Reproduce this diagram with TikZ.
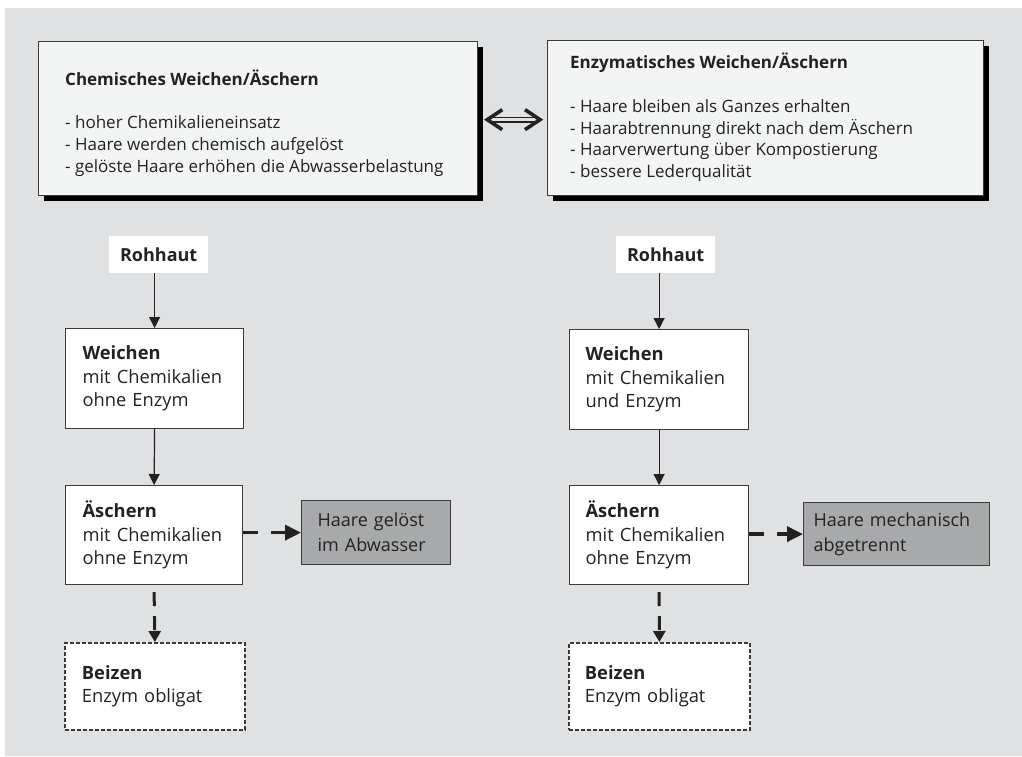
\documentclass[tikz,border=0pt]{standalone}
\usepackage{fontspec}
\setmainfont{Open Sans}
\usetikzlibrary{arrows.meta,shadows}
\definecolor{bgc}{HTML}{E0E1E3}
\definecolor{topfill}{HTML}{F3F4F4}
\definecolor{grayfill}{HTML}{A8A9AB}
\definecolor{edge}{HTML}{3A3A3A}
\definecolor{ink}{HTML}{222222}
\begin{document}
\begin{tikzpicture}[x=1pt,y=-1pt,
  topbox/.style={draw=edge, line width=1.3pt, fill=topfill, inner sep=0pt, anchor=north west,
    drop shadow={shadow xshift=5pt, shadow yshift=-5pt, fill=black, opacity=1}},
  toptext/.style={anchor=west, align=left, inner sep=0pt, text=ink, font=\fontsize{17}{21.8}\selectfont},
  flowbox/.style={draw=edge, line width=1.2pt, fill=white, anchor=north west, inner xsep=17pt, inner ysep=0pt,
    align=left, text=ink, font=\fontsize{18.3}{23.5}\selectfont},
  beizbox/.style={flowbox, dash pattern=on 4pt off 2pt, line width=1.8pt},
  graybox/.style={draw=edge, line width=1.2pt, fill=grayfill, anchor=north west, inner ysep=0pt,
    align=left, text=ink, font=\fontsize{18}{25}\selectfont},
  startbox/.style={fill=white, anchor=north west, inner sep=0pt, text=ink, font=\fontsize{18}{22}\selectfont\bfseries},
  solidarrow/.style={draw=ink, line width=1.2pt, -{Triangle[width=11pt,length=11pt]}},
  dasharrow/.style={draw=ink, line width=3.5pt, dash pattern=on 15pt off 13pt, -{Triangle[width=15pt,length=16pt]}},
  vdasharrow/.style={draw=ink, line width=3pt, dash pattern=on 14pt off 10pt, -{Triangle[width=12pt,length=11pt]}},
  chevron/.style={draw=ink, line width=3.6pt, line join=miter},
  dblshaft/.style={draw=ink, line width=1.6pt}
]
\useasboundingbox (0,0) rectangle (1022,756);
\fill[bgc] (5,8) rectangle (1022,756);

% top boxes
\node[topbox, minimum width=439pt, minimum height=154pt] (chemBox) at (38,41) {};
\node[topbox, minimum width=436pt, minimum height=155pt] (enzBox) at (547,40) {};
\node[toptext] (chemText) at (65,123) {\textbf{Chemisches Weichen/Äschern}\\[21.8pt]
- hoher Chemikalieneinsatz\\
- Haare werden chemisch aufgelöst\\
- gelöste Haare erhöhen die Abwasserbelastung};
\node[toptext] (enzText) at (570,117.5) {\textbf{Enzymatisches Weichen/Äschern}\\[21.8pt]
- Haare bleiben als Ganzes erhalten\\
- Haarabtrennung direkt nach dem Äschern\\
- Haarverwertung über Kompostierung\\
- bessere Lederqualität};

% double arrow between the top boxes
\path (chemBox.east) ++(9,1) coordinate (dL);
\path (enzBox.west |- chemBox.east) ++(-7,1) coordinate (dR);
\draw[dblshaft] ([shift={(2,-2.3)}]dL) -- ([shift={(-2,-2.3)}]dR);
\draw[dblshaft] ([shift={(2,2.3)}]dL) -- ([shift={(-2,2.3)}]dR);
\draw[chevron] ([shift={(15,-10)}]dL) -- (dL) -- ([shift={(15,10)}]dL);
\draw[chevron] ([shift={(-15,-10)}]dR) -- (dR) -- ([shift={(-15,10)}]dR);

% left flow
\node[startbox, minimum width=99pt, minimum height=37pt] (rohL) at (109,236) {Rohhaut};
\node[flowbox, minimum width=178pt, minimum height=100pt, text width=144pt] (weiL) at (65,328)
  {\textbf{Weichen}\\mit Chemikalien\\ohne Enzym};
\node[flowbox, minimum width=177pt, minimum height=99pt, text width=143pt] (aschL) at (65,485)
  {\textbf{Äschern}\\mit Chemikalien\\ohne Enzym};
\node[graybox, minimum width=149pt, minimum height=64pt, inner xsep=16pt, text width=117pt] (grayL) at (301,500)
  {Haare gelöst\\im Abwasser};
\node[beizbox, minimum width=180pt, minimum height=87pt, text width=146pt] (beizL) at (64,642)
  {\textbf{Beizen}\\Enzym obligat};

\draw[solidarrow] (weiL.north |- rohL.south) -- (weiL.north);
\draw[solidarrow] (weiL.south) -- (aschL.north);
\draw[dasharrow] (aschL.east |- grayL.west) -- (grayL.west);
\draw[vdasharrow] ([yshift=-7pt]aschL.south) -- (beizL.north);

% right flow
\node[startbox, minimum width=99pt, minimum height=37pt] (rohR) at (616,236) {Rohhaut};
\node[flowbox, minimum width=179pt, minimum height=100pt, inner xsep=16pt, text width=147pt] (weiR) at (569,329)
  {\textbf{Weichen}\\mit Chemikalien\\und Enzym};
\node[flowbox, minimum width=179pt, minimum height=99pt, inner xsep=16pt, text width=147pt] (aschR) at (569,485)
  {\textbf{Äschern}\\mit Chemikalien\\ohne Enzym};
\node[graybox, minimum width=186pt, minimum height=63pt, inner xsep=10pt, text width=166pt] (grayR) at (803,502)
  {Haare mechanisch\\abgetrennt};
\node[beizbox, minimum width=181pt, minimum height=87pt, inner xsep=16pt, text width=149pt] (beizR) at (568,642)
  {\textbf{Beizen}\\Enzym obligat};

\draw[solidarrow] (weiR.north |- rohR.south) -- (weiR.north);
\draw[solidarrow] (weiR.south) -- (aschR.north);
\draw[dasharrow] (aschR.east |- grayR.west) -- (grayR.west);
\draw[vdasharrow] ([yshift=-7pt]aschR.south) -- (beizR.north);
\end{tikzpicture}
\end{document}
